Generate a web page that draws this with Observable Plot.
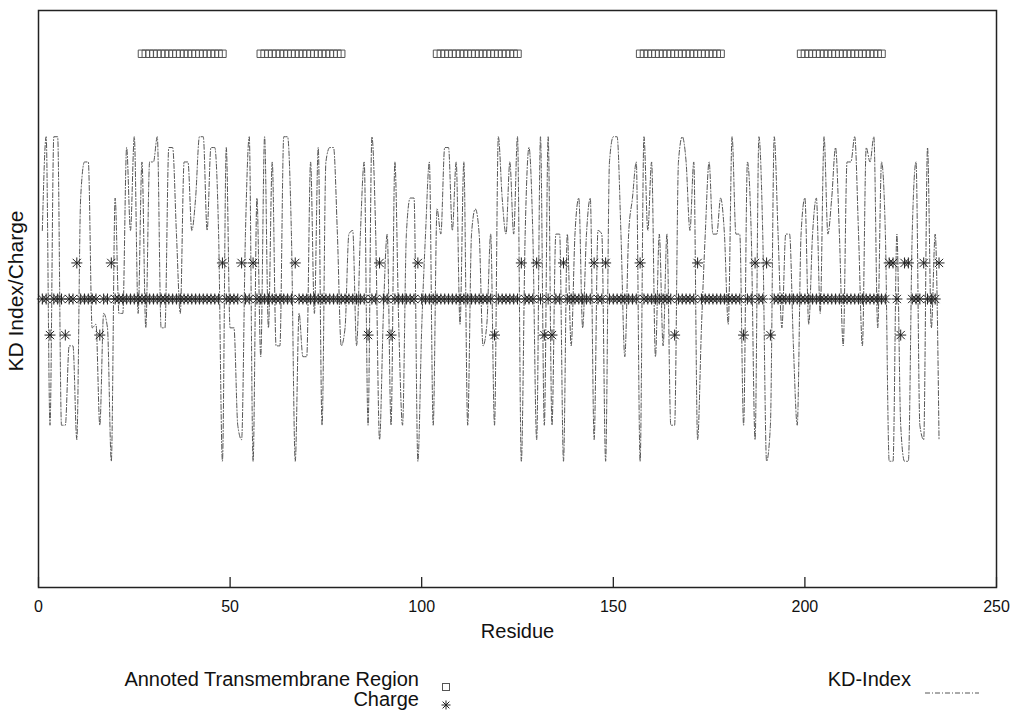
<!DOCTYPE html>
<html>
<head>
<meta charset="utf-8">
<script src="https://cdn.jsdelivr.net/npm/d3@7"></script>
<script src="https://cdn.jsdelivr.net/npm/@observablehq/plot@0.6"></script>
<style>
  html, body { margin: 0; padding: 0; background: #fff; }
  #wrap { position: relative; width: 1021px; height: 711px; font-family: "Liberation Sans", Arial, sans-serif; }
  #legend { position: absolute; left: 0; top: 655px; width: 1021px; height: 56px; font-size: 20px; color: #111; }
  .lg { position: absolute; white-space: nowrap; text-align: right; line-height: 20px; }
  .sym { position: absolute; }
</style>
</head>
<body>
<div id="wrap">
  <div id="chart"></div>
  <div id="legend"></div>
</div>
<script>
// Kyte-Doolittle index per residue
const kdIndex = [
  1.9, 4.5, -3.5, 4.5, 4.5, -3.5, -3.5, -1.3, -1.3, -3.9,
  2.8, 3.8, 3.8, -0.8, -0.7, -3.5, -0.4, -0.8, -4.5, 2.8,
  -0.4, -0.4, 4.2, 1.9, 4.5, -0.4, 3.8, -0.8, 3.8, 3.8,
  4.5, -0.8, -0.8, 4.2, 4.2, 1.8, -0.4, 3.8, 3.8, 1.9,
  2.8, 4.5, 4.5, 1.9, 4.2, 4.2, 1.8, -4.5, 4.2, -0.8,
  -0.8, -3.5, -3.9, 1.8, 4.5, -4.5, 2.8, -1.6, 4.5, -0.8,
  3.8, -1.3, -1.3, 4.5, 4.5, 1.8, -4.5, -0.4, -1.6, -1.6,
  3.8, -0.4, 4.2, -3.5, 3.8, 4.2, 4.2, 1.8, -1.3, -0.8,
  1.8, 1.9, -1.3, 1.8, 3.8, -3.5, 4.5, 1.8, -3.9, -0.4,
  1.8, -3.5, 3.8, -0.7, -3.5, 1.8, 2.8, 2.8, -4.5, -0.8,
  1.8, 3.8, -3.5, 2.5, 1.8, 4.2, 4.2, 1.9, 3.8, -0.7,
  3.8, -3.5, 1.8, 2.5, 1.8, -1.3, -0.7, 1.8, -3.5, 4.5,
  2.8, 1.8, 3.8, 1.8, 4.5, -4.5, 1.8, 4.2, 1.8, -3.9,
  4.5, -3.5, 4.5, -3.5, 1.8, 1.8, -4.5, 1.8, -1.3, 1.8,
  2.8, -0.8, 1.8, 2.8, -3.9, 1.9, 1.8, -4.5, 3.8, 4.5,
  4.5, 1.8, -1.6, 1.8, 2.8, 3.8, -4.5, 4.5, 1.9, 3.8,
  -1.6, 1.8, -1.3, 1.8, -3.5, -3.5, 3.8, 4.5, 3.8, 1.9,
  3.8, -3.9, -0.8, 1.8, 3.8, 1.8, 1.8, 2.8, 1.8, -0.7,
  4.5, 1.8, 1.8, -3.5, 3.8, 1.8, -3.9, 4.5, 1.8, -4.5,
  -3.5, 4.5, 1.8, -0.8, 1.8, 1.8, -1.3, -3.5, 1.8, 2.8,
  -0.7, 1.8, 2.8, -0.4, 4.5, 1.8, 2.8, 4.2, 1.8, -1.3,
  3.8, 3.8, 4.5, 1.8, -1.3, 4.2, 3.8, 4.5, -0.8, 3.8,
  1.8, -4.5, -4.5, 1.8, -3.5, -4.5, -4.5, 1.8, 3.8, -3.5,
  -3.9, 4.2, -0.8, 1.8, -3.9
];
// charged residues (positions)
const positiveResidues = [10, 19, 48, 53, 56, 67, 89, 99, 126, 130, 137, 145, 148, 157, 172, 187, 190, 222, 223, 226, 227, 231, 235];
const negativeResidues = [3, 7, 16, 86, 92, 119, 132, 134, 166, 184, 191, 225];
// annotated transmembrane regions
const tmStarts = [27, 58, 104, 157, 199];
const tmEnds = [48, 79, 125, 178, 220];
const tmLevel = 6.8;
const xTicks = [0, 50, 100, 150, 200, 250];

const residues = kdIndex.map((v, i) => ({
  res: i + 1,
  kd: v,
  charge: positiveResidues.includes(i + 1) ? 1 : negativeResidues.includes(i + 1) ? -1 : 0
}));
const tmPoints = [];
tmStarts.forEach((s, k) => { for (let r = s; r <= tmEnds[k]; r++) tmPoints.push({res: r, y: tmLevel}); });

// gnuplot-like asterisk (+ and x)
const asterisk = {
  draw(ctx, size) {
    const r = Math.sqrt(size / Math.PI);
    const d = r * 0.75;
    ctx.moveTo(-r, 0); ctx.lineTo(r, 0);
    ctx.moveTo(0, -r); ctx.lineTo(0, r);
    ctx.moveTo(-d, -d); ctx.lineTo(d, d);
    ctx.moveTo(-d, d); ctx.lineTo(d, -d);
  }
};

const chart = Plot.plot({
  width: 1021,
  height: 655,
  marginLeft: 38,
  marginRight: 25,
  marginTop: 10,
  marginBottom: 68,
  style: {fontFamily: "Liberation Sans, Arial, sans-serif", fontSize: "16px", background: "white", color: "#111"},
  x: {domain: [0, 250]},
  y: {domain: [-8, 8], axis: null},
  marks: [
    Plot.line(residues, {x: "res", y: "kd", curve: "monotone-x", stroke: "#555", strokeWidth: 1, strokeDasharray: "5,2,1,2"}),
    Plot.dot(residues, {x: "res", y: "charge", symbol: asterisk, r: 5.5, stroke: "#222", fill: "none", strokeWidth: 1}),
    Plot.dot(tmPoints, {x: "res", y: "y", symbol: "square", r: 4.2, stroke: "#555", fill: "none", strokeWidth: 1}),
    Plot.ruleX(xTicks, {y1: -8, y2: -7.72, stroke: "#111", strokeWidth: 1.2}),
    Plot.axisX({ticks: xTicks, tickSize: 0, tickPadding: 13, label: null, fontSize: 16}),
    Plot.text(["Residue"], {frameAnchor: "bottom", dy: 50, fontSize: 20, fill: "#111"}),
    Plot.text(["KD Index/Charge"], {frameAnchor: "left", textAnchor: "middle", dx: -22, dy: -8, rotate: -90, fontSize: 21, fill: "#111"}),
    Plot.frame({stroke: "#222", strokeWidth: 1.5})
  ]
});
document.getElementById("chart").appendChild(chart);

// legend
const legend = document.getElementById("legend");
function addLabel(text, right, centerY) {
  const d = document.createElement("div");
  d.className = "lg";
  d.textContent = text;
  d.style.right = (1021 - right) + "px";
  d.style.top = (centerY - 10) + "px";
  legend.appendChild(d);
}
function addSym(svg, left, centerY, w, h) {
  const d = document.createElement("div");
  d.className = "sym";
  d.style.left = left + "px";
  d.style.top = (centerY - h / 2) + "px";
  d.innerHTML = svg;
  legend.appendChild(d);
}
addLabel("Annoted Transmembrane Region", 419, 24);
addLabel("Charge", 419, 44);
addLabel("KD-Index", 911, 24);
addSym('<svg width="10" height="10"><rect x="1.5" y="1.5" width="7" height="7" fill="none" stroke="#555"/></svg>', 441, 24, 10, 10);
addSym('<svg width="12" height="12"><path d="M1.5,6H10.5M6,1.5V10.5M2.6,2.6L9.4,9.4M2.6,9.4L9.4,2.6" stroke="#222" fill="none"/></svg>', 440, 44, 12, 12);
addSym('<svg width="56" height="4"><line x1="0" y1="2" x2="54" y2="2" stroke="#555" stroke-dasharray="5,2,1,2"/></svg>', 925, 24, 56, 4);
</script>
</body>
</html>
